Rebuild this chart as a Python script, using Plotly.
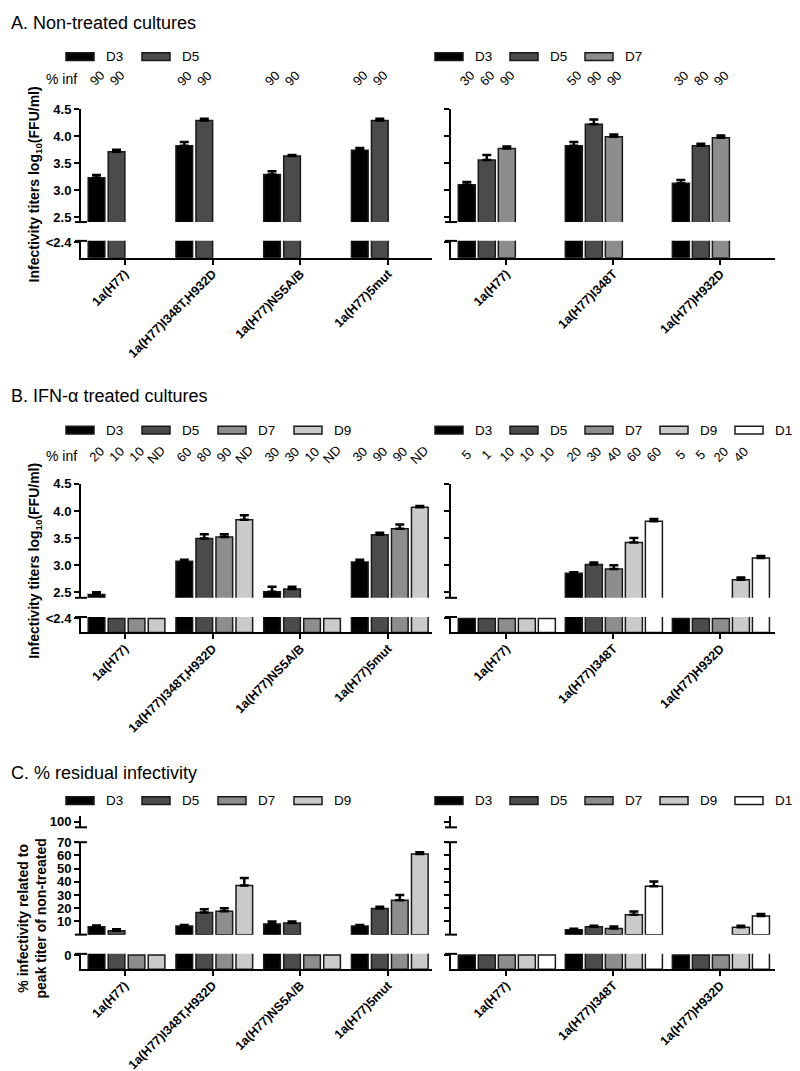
import plotly.graph_objects as go

# ---------------- data ----------------
DAY_COLORS = {"D3": "#000000", "D5": "#4b4b4b", "D7": "#8d8d8d", "D9": "#cacaca", "D11": "#ffffff"}

CATS_LEFT = ["1a(H77)", "1a(H77)I348T,H932D", "1a(H77)NS5A/B", "1a(H77)5mut"]
CATS_RIGHT = ["1a(H77)", "1a(H77)I348T", "1a(H77)H932D"]

# A. Non-treated cultures, log10(FFU/ml)
A_L_D3 = [3.23, 3.82, 3.29, 3.74]
A_L_D3_ERR = [0.05, 0.07, 0.06, 0.04]
A_L_D5 = [3.71, 4.29, 3.63, 4.29]
A_L_D5_ERR = [0.04, 0.03, 0.02, 0.03]
A_R_D3 = [3.10, 3.82, 3.13]
A_R_D3_ERR = [0.05, 0.07, 0.06]
A_R_D5 = [3.56, 4.22, 3.82]
A_R_D5_ERR = [0.09, 0.09, 0.04]
A_R_D7 = [3.77, 3.99, 3.97]
A_R_D7_ERR = [0.04, 0.04, 0.04]

A_L_INF_D3 = ["90", "90", "90", "90"]
A_L_INF_D5 = ["90", "90", "90", "90"]
A_R_INF_D3 = ["30", "50", "30"]
A_R_INF_D5 = ["60", "90", "80"]
A_R_INF_D7 = ["90", "90", "90"]

# B. IFN-alpha treated cultures (None = below detection, <2.4)
B_L_D3 = [2.46, 3.07, 2.51, 3.06]
B_L_D3_ERR = [0.04, 0.03, 0.09, 0.04]
B_L_D5 = [None, 3.49, 2.56, 3.56]
B_L_D5_ERR = [None, 0.08, 0.04, 0.04]
B_L_D7 = [None, 3.52, None, 3.67]
B_L_D7_ERR = [None, 0.05, None, 0.08]
B_L_D9 = [None, 3.84, None, 4.07]
B_L_D9_ERR = [None, 0.08, None, 0.02]
B_R_D3 = [None, 2.85, None]
B_R_D3_ERR = [None, 0.02, None]
B_R_D5 = [None, 3.01, None]
B_R_D5_ERR = [None, 0.04, None]
B_R_D7 = [None, 2.93, None]
B_R_D7_ERR = [None, 0.07, None]
B_R_D9 = [None, 3.42, 2.73]
B_R_D9_ERR = [None, 0.08, 0.04]
B_R_D11 = [None, 3.81, 3.13]
B_R_D11_ERR = [None, 0.04, 0.04]

B_L_INF_D3 = ["20", "60", "30", "30"]
B_L_INF_D5 = ["10", "80", "30", "90"]
B_L_INF_D7 = ["10", "90", "10", "90"]
B_L_INF_D9 = ["ND", "ND", "ND", "ND"]
B_R_INF_D3 = ["5", "20", "5"]
B_R_INF_D5 = ["1", "30", "5"]
B_R_INF_D7 = ["10", "40", "20"]
B_R_INF_D9 = ["10", "60", "40"]
B_R_INF_D11 = ["10", "60", ""]

# C. % residual infectivity (None = 0 / below detection)
C_L_D3 = [6.0, 6.5, 8.0, 6.5]
C_L_D3_ERR = [1.0, 0.8, 2.0, 0.7]
C_L_D5 = [3.0, 16.8, 8.8, 19.7]
C_L_D5_ERR = [1.0, 2.5, 1.2, 1.5]
C_L_D7 = [None, 17.8, None, 26.0]
C_L_D7_ERR = [None, 2.2, None, 4.0]
C_L_D9 = [None, 37.3, None, 61.0]
C_L_D9_ERR = [None, 5.5, None, 1.3]
C_R_D3 = [None, 3.7, None]
C_R_D3_ERR = [None, 0.8, None]
C_R_D5 = [None, 6.0, None]
C_R_D5_ERR = [None, 0.7, None]
C_R_D7 = [None, 4.7, None]
C_R_D7_ERR = [None, 1.5, None]
C_R_D9 = [None, 15.1, 5.5]
C_R_D9_ERR = [None, 2.5, 1.2]
C_R_D11 = [None, 36.7, 14.1]
C_R_D11_ERR = [None, 3.5, 1.5]

# ---------------- layout geometry (pixels) ----------------
FONT = "Liberation Sans, Arial, Helvetica, sans-serif"
W, H = 800, 1071


def fx(p):
    return p / W


def fy(p):
    return 1 - p / H


SIDE_GEOM = {
    "L": dict(x0=73, x1=424, xrange=[-0.5, 3.5], slot=0.228, first=-0.418, width=0.19,
              ylabels=True, legend_x=58, legend_step=76),
    "R": dict(x0=443, x1=767, xrange=[-0.517, 2.51], slot=0.187, first=-0.449, width=0.159,
              ylabels=False, legend_x=427, legend_step=75),
}
LEGEND_TEXT_OFFSET = 38

TITER_TICKS = [2.5, 3.0, 3.5, 4.0, 4.5]
TITER_TEXT = ["2.5", "3.0", "3.5", "4.0", "4.5"]

PANELS = [
    dict(
        title="A. Non-treated cultures", title_y=8, legend_y=42, inf_y=64,
        ytitle="Infectivity titers log<sub>10</sub>(FFU/ml)", ytitle_x=27, ytitle_y=171, ytitle_size=14,
        lod=2.4, base=2.3,
        segments=[
            dict(role="bars", top=95, bottom=209, range=[2.41, 4.5], tickvals=TITER_TICKS,
                 ticktext=TITER_TEXT, caps=["bottom"]),
            dict(role="lod", top=228, bottom=245, range=[2.3, 2.41], tickvals=[2.4],
                 ticktext=["<2.4"], caps=["top"]),
        ],
        sides={
            "L": dict(cats=CATS_LEFT, days=["D3", "D5"], values=[A_L_D3, A_L_D5],
                      errs=[A_L_D3_ERR, A_L_D5_ERR], inf=[A_L_INF_D3, A_L_INF_D5]),
            "R": dict(cats=CATS_RIGHT, days=["D3", "D5", "D7"], values=[A_R_D3, A_R_D5, A_R_D7],
                      errs=[A_R_D3_ERR, A_R_D5_ERR, A_R_D7_ERR],
                      inf=[A_R_INF_D3, A_R_INF_D5, A_R_INF_D7]),
        },
    ),
    dict(
        title="B. IFN-\u03b1 treated cultures", title_y=385, legend_y=419, inf_y=444,
        ytitle="Infectivity titers log<sub>10</sub>(FFU/ml)", ytitle_x=27, ytitle_y=551, ytitle_size=14,
        lod=2.4, base=2.3,
        segments=[
            dict(role="bars", top=473.3, bottom=588.3, range=[2.397, 4.5], tickvals=TITER_TICKS,
                 ticktext=TITER_TEXT, caps=["bottom"]),
            dict(role="lod", top=607.7, bottom=623.3, range=[2.3, 2.41], tickvals=[2.4],
                 ticktext=["<2.4"], caps=["top"]),
        ],
        sides={
            "L": dict(cats=CATS_LEFT, days=["D3", "D5", "D7", "D9"],
                      values=[B_L_D3, B_L_D5, B_L_D7, B_L_D9],
                      errs=[B_L_D3_ERR, B_L_D5_ERR, B_L_D7_ERR, B_L_D9_ERR],
                      inf=[B_L_INF_D3, B_L_INF_D5, B_L_INF_D7, B_L_INF_D9]),
            "R": dict(cats=CATS_RIGHT, days=["D3", "D5", "D7", "D9", "D11"],
                      values=[B_R_D3, B_R_D5, B_R_D7, B_R_D9, B_R_D11],
                      errs=[B_R_D3_ERR, B_R_D5_ERR, B_R_D7_ERR, B_R_D9_ERR, B_R_D11_ERR],
                      inf=[B_R_INF_D3, B_R_INF_D5, B_R_INF_D7, B_R_INF_D9, B_R_INF_D11]),
        },
    ),
    dict(
        title="C. % residual infectivity", title_y=765, legend_y=793, inf_y=None,
        ytitle="% infectivity related to<br>peak titer of non-treated", ytitle_x=24, ytitle_y=912, ytitle_size=14,
        lod=0, base=-10,
        segments=[
            dict(role="break", top=809, bottom=820, range=[97, 103], tickvals=[100],
                 ticktext=["100"], caps=["bottom"]),
            dict(role="bars", top=835, bottom=928.3, range=[0, 70],
                 tickvals=[10, 20, 30, 40, 50, 60, 70],
                 ticktext=["10", "20", "30", "40", "50", "60", "70"], caps=["top", "bottom"]),
            dict(role="lod", top=947.7, bottom=963.3, range=[-10, 0.8], tickvals=[0],
                 ticktext=["0"], caps=["top"]),
        ],
        sides={
            "L": dict(cats=CATS_LEFT, days=["D3", "D5", "D7", "D9"],
                      values=[C_L_D3, C_L_D5, C_L_D7, C_L_D9],
                      errs=[C_L_D3_ERR, C_L_D5_ERR, C_L_D7_ERR, C_L_D9_ERR], inf=None),
            "R": dict(cats=CATS_RIGHT, days=["D3", "D5", "D7", "D9", "D11"],
                      values=[C_R_D3, C_R_D5, C_R_D7, C_R_D9, C_R_D11],
                      errs=[C_R_D3_ERR, C_R_D5_ERR, C_R_D7_ERR, C_R_D9_ERR, C_R_D11_ERR], inf=None),
        },
    ),
]

# ---------------- build ----------------
fig = go.Figure()
layout_axes = {}
shapes = []
annotations = []
counter = {"x": 0, "y": 0}


def new_ref(kind):
    counter[kind] += 1
    n = counter[kind]
    return kind if n == 1 else f"{kind}{n}"


def lkey(ref):
    return ref[0] + "axis" + ref[1:]


AXLINE = dict(showline=True, linewidth=2, linecolor="black", ticks="outside", ticklen=5,
              tickwidth=2, tickcolor="black", showgrid=False, zeroline=False, fixedrange=True)
BAR_LINE = dict(color="#1a1a1a", width=1.5)

for panel in PANELS:
    annotations.append(dict(text=panel["title"], x=fx(1), y=fy(panel["title_y"]), xref="paper",
                            yref="paper", xanchor="left", yanchor="middle", showarrow=False,
                            font=dict(size=18, family=FONT, color="black")))
    annotations.append(dict(text=panel["ytitle"], x=fx(panel["ytitle_x"]), y=fy(panel["ytitle_y"]),
                            xref="paper", yref="paper", xanchor="center", yanchor="middle",
                            textangle=-90, showarrow=False,
                            font=dict(size=panel["ytitle_size"], family=FONT, color="black", weight="bold")))
    if panel["inf_y"] is not None:
        annotations.append(dict(text="% inf", x=fx(36), y=fy(panel["inf_y"] + 1), xref="paper",
                                yref="paper", xanchor="left", yanchor="middle", showarrow=False,
                                font=dict(size=14, family=FONT, color="black")))

    for side_key, side in panel["sides"].items():
        g = SIDE_GEOM[side_key]
        n = len(side["cats"])
        xs = list(range(n))
        xref = new_ref("x")
        seg_refs = [(seg, new_ref("y")) for seg in panel["segments"]]
        lower_ref = [r for s, r in seg_refs if s["role"] == "lod"][0]

        layout_axes[lkey(xref)] = dict(
            AXLINE, domain=[fx(g["x0"]), fx(g["x1"])], range=g["xrange"], anchor=lower_ref,
            tickmode="array", tickvals=xs, ticktext=side["cats"], tickangle=-45,
            ticklabelstandoff=-3,
            tickfont=dict(size=12.5, family=FONT, color="black", weight="bold"))

        for seg, yref in seg_refs:
            layout_axes[lkey(yref)] = dict(
                AXLINE, domain=[fy(seg["bottom"]), fy(seg["top"])], range=seg["range"], anchor=xref,
                tickmode="array", tickvals=seg["tickvals"], ticktext=seg["ticktext"],
                showticklabels=g["ylabels"],
                tickfont=dict(size=13, family=FONT, color="black", weight="bold"))
            for cap in seg["caps"]:
                yy = fy(seg["top"] if cap == "top" else seg["bottom"])
                shapes.append(dict(type="line", xref="paper", yref="paper", x0=fx(g["x0"] - 6),
                                   x1=fx(g["x0"] + 6), y0=yy, y1=yy,
                                   line=dict(color="black", width=2)))

            if seg["role"] == "break":
                fig.add_trace(go.Scatter(x=[None], y=[None], xaxis=xref, yaxis=yref,
                                         showlegend=False, hoverinfo="skip"))
                continue

            for j, day in enumerate(side["days"]):
                vals = side["values"][j]
                common = dict(x=xs, xaxis=xref, yaxis=yref, offset=g["first"] + g["slot"] * j,
                              width=g["width"], showlegend=False, hoverinfo="skip",
                              marker=dict(color=DAY_COLORS[day], line=BAR_LINE))
                if seg["role"] == "bars":
                    errs = side["errs"][j]
                    fig.add_trace(go.Bar(
                        y=vals, **common,
                        error_y=dict(type="data", symmetric=False, array=errs,
                                     arrayminus=[0] * n, color="black", thickness=2.5, width=4.5)))
                else:
                    base = panel["base"]
                    yv = [(panel["lod"] if v is None else v) - base for v in vals]
                    fig.add_trace(go.Bar(y=yv, base=base, **common))

        # legend
        for j, day in enumerate(side["days"]):
            sx = g["legend_x"] + j * g["legend_step"]
            ly = panel["legend_y"]
            shapes.append(dict(type="rect", xref="paper", yref="paper", x0=fx(sx), x1=fx(sx + 28),
                               y0=fy(ly + 4), y1=fy(ly - 4), fillcolor=DAY_COLORS[day],
                               line=dict(color="#1a1a1a", width=1.5)))
            annotations.append(dict(text=day, x=fx(sx + LEGEND_TEXT_OFFSET), y=fy(ly), xref="paper",
                                    yref="paper", xanchor="left", yanchor="middle", showarrow=False,
                                    font=dict(size=13.5, family=FONT, color="black")))

        # % inf values
        if side["inf"] is not None:
            for j, labels in enumerate(side["inf"]):
                for i, t in enumerate(labels):
                    if not t:
                        continue
                    annotations.append(dict(
                        text=t, x=i + g["first"] + g["slot"] * j + g["width"] / 2,
                        y=fy(panel["inf_y"]), xref=xref, yref="paper", textangle=-45,
                        xanchor="center", yanchor="middle", showarrow=False,
                        font=dict(size=13, family=FONT, color="black")))

fig.update_layout(
    width=W, height=H, margin=dict(l=0, r=0, t=0, b=0),
    paper_bgcolor="white", plot_bgcolor="white", showlegend=False, barmode="overlay",
    font=dict(family=FONT, color="black"),
    shapes=shapes, annotations=annotations, **layout_axes)

fig.write_html("out.html")
